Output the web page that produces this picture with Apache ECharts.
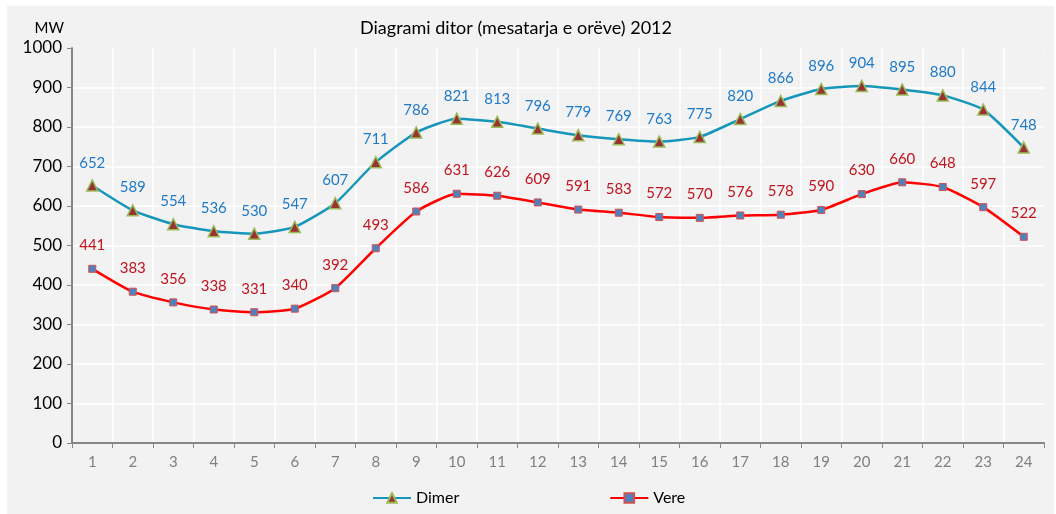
<!DOCTYPE html>
<html>
<head>
<meta charset="utf-8">
<script src="https://cdn.jsdelivr.net/npm/echarts@6/dist/echarts.min.js"></script>
<style>
	html, body { margin: 0; padding: 0; background: #ffffff; }
	#chart { position: absolute; left: 7px; top: 6px; width: 1047px; height: 508px; background: #f2f2f2; }
</style>
</head>
<body>
<div id="chart"></div>
<script>
// orët
var hours = ['1', '2', '3', '4', '5', '6', '7', '8', '9', '10', '11', '12',
	'13', '14', '15', '16', '17', '18', '19', '20', '21', '22', '23', '24'];
// Dimer
var dimerData = [652, 589, 554, 536, 530, 547, 607, 711, 786, 821, 813, 796,
	779, 769, 763, 775, 820, 866, 896, 904, 895, 880, 844, 748];
// Vere
var vereData = [441, 383, 356, 338, 331, 340, 392, 493, 586, 631, 626, 609,
	591, 583, 572, 570, 576, 578, 590, 630, 660, 648, 597, 522];

var fontFam = 'Lato, "Open Sans", sans-serif';
var myChart = echarts.init(document.getElementById('chart'));
var option = {
	animation: false,
	textStyle: { fontFamily: fontFam },
	title: {
		text: 'Diagrami ditor (mesatarja e orëve) 2012',
		left: 504,
		top: 8,
		textAlign: 'center',
		textStyle: { fontSize: 18, fontWeight: 'normal', color: '#000', fontFamily: fontFam }
	},
	legend: {
		left: 360,
		top: 479,
		itemGap: 150,
		itemWidth: 38,
		itemHeight: 12,
		textStyle: { fontSize: 16, color: '#000', fontFamily: fontFam },
		data: ['Dimer', 'Vere']
	},
	grid: {
		left: 65,
		top: 42,
		right: 10,
		bottom: 71,
		show: true,
		backgroundColor: 'transparent',
		borderColor: '#a6a6a6',
		borderWidth: 1
	},
	xAxis: {
		type: 'category',
		data: hours,
		boundaryGap: true,
		axisLine: { lineStyle: { color: '#868686', width: 2 } },
		axisTick: { show: true, alignWithLabel: false, length: 5, lineStyle: { color: '#868686' } },
		axisLabel: { color: '#808080', fontSize: 15, margin: 12, fontFamily: fontFam },
		splitLine: { show: true, interval: 0, lineStyle: { color: '#ffffff', width: 1.5 } }
	},
	yAxis: {
		type: 'value',
		name: 'MW',
		nameLocation: 'end',
		nameGap: 12,
		nameTextStyle: { fontSize: 15, color: '#000', align: 'right', padding: [0, 8, 0, 0], fontFamily: fontFam },
		min: 0,
		max: 1000,
		interval: 100,
		axisLine: { show: true, lineStyle: { color: '#868686', width: 2 } },
		axisTick: { show: true, length: 5, lineStyle: { color: '#868686' } },
		axisLabel: {
			color: '#000',
			fontSize: 17,
			margin: 10,
			fontFamily: fontFam,
			formatter: function (v) { return String(v); }
		},
		splitLine: { lineStyle: { color: '#ffffff', width: 1.5 } }
	},
	series: [{
		name: 'Dimer',
		type: 'line',
		data: dimerData,
		smooth: 0.18,
		symbol: 'triangle',
		symbolSize: 11,
		itemStyle: { color: '#993333', borderColor: '#9bbb59', borderWidth: 1.5 },
		lineStyle: { color: '#1596ba', width: 2.5 },
		label: {
			show: true,
			position: 'top',
			distance: 9,
			color: '#1f7ac8',
			fontSize: 15,
			fontFamily: fontFam
		}
	}, {
		name: 'Vere',
		type: 'line',
		data: vereData,
		smooth: 0.18,
		symbol: 'rect',
		symbolSize: 7,
		itemStyle: { color: '#4f81bd', borderColor: '#d05050', borderWidth: 1 },
		lineStyle: { color: '#ff0000', width: 2.5 },
		label: {
			show: true,
			position: 'top',
			distance: 12,
			color: '#c0141e',
			fontSize: 15,
			fontFamily: fontFam
		}
	}]
};
myChart.setOption(option);
window.addEventListener("resize", function () {
	myChart.resize();
});
</script>
</body>
</html>
